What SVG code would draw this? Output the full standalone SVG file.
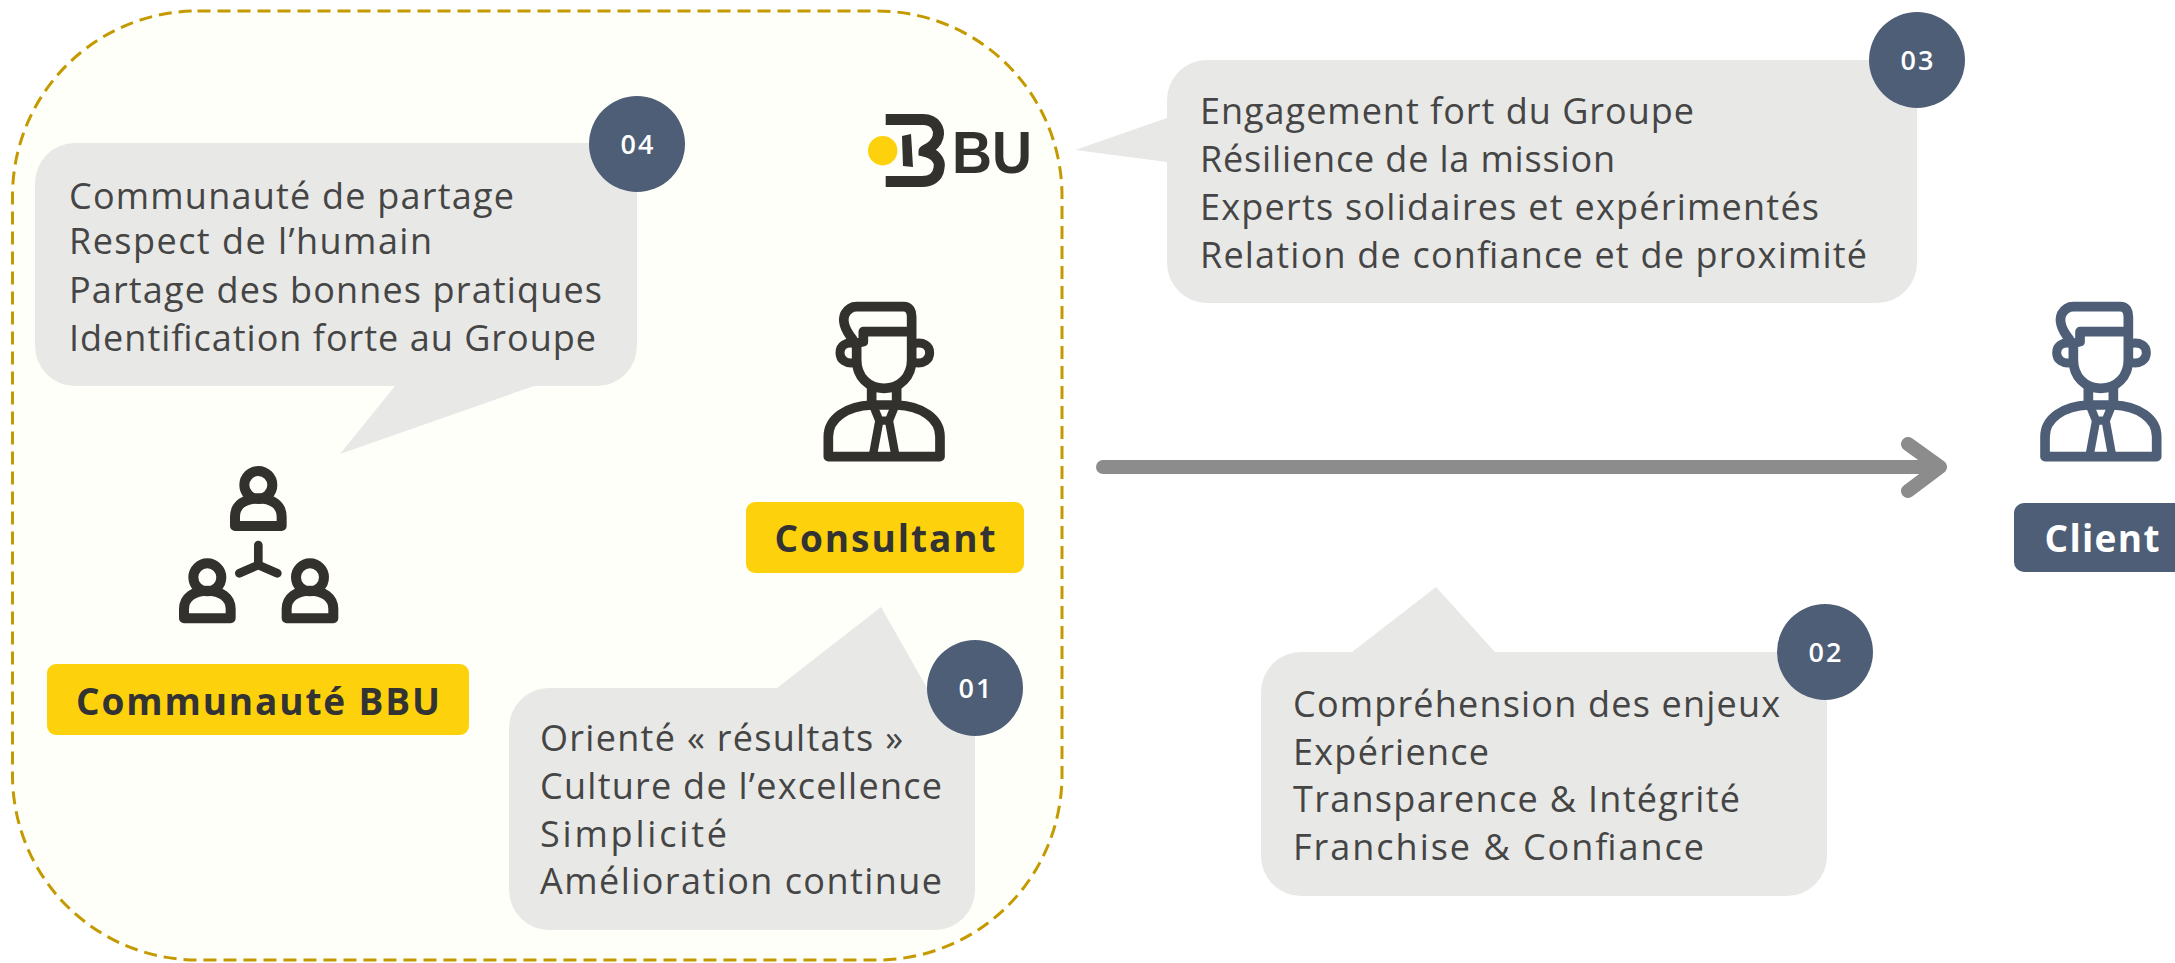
<svg xmlns="http://www.w3.org/2000/svg" width="2175" height="963" viewBox="0 0 2175 963">
<style>
text{font-family:"Open Sans","Liberation Sans",sans-serif}
.b{fill:#e8e8e6}
.t{font-size:36px;fill:#454545}
.c{fill:#4d5e76}
.n{font-size:27px;font-weight:600;fill:#fff;text-anchor:middle;letter-spacing:2px}
.y{fill:#fdd20c}
.l{font-size:37px;font-weight:700;fill:#333;text-anchor:middle}
.i{fill:none;stroke-linejoin:round;stroke-linecap:round}
</style>
<defs>
<g id="person">
<path d="M218 178C192 145 187 120 195 102C205 85 215 80 230 80L370 80C390 80 395 95 395 110L395 240C395 290 360 325 312 325C265 325 230 290 230 240L230 190L250 185L250 155L395 155" stroke-width="29"/>
<path d="M222 248C198 252 180 240 180 218C180 196 198 186 222 190M405 190C430 186 449 196 449 218C449 240 430 252 405 248" stroke-width="27"/>
<path d="M275 320L275 375M350 320L350 375M145 530L145 470C145 415 200 378 275 375L350 375C425 378 480 415 480 470L480 530Z" stroke-width="29"/>
<path d="M283 385L298 422L327 422L342 385M298 422L279 525M327 422L346 525" stroke-width="25"/>
</g>
<g id="mini"><circle cx="295" cy="105" r="42" stroke-width="30"/><path d="M225 228L225 200C225 165 255 145 295 145C335 145 365 165 365 200L365 228Z" stroke-width="30"/></g>
</defs>
<rect id="zone" x="12.500" y="11" width="1049.500" height="949" rx="185" fill="#fffffa" stroke="#c49a00" stroke-width="3" stroke-dasharray="13 7"/>
<g id="logo">
<circle cx="882.700" cy="150.700" r="14.700" class="y"/>
<path d="M885.700 119.500H923C936 119.500 940 130 938 137C935 148 924 150 924 151C934 153 941 160 939 168C938 178 930 181.500 922 181.500H885.700" fill="none" stroke="#33312e" stroke-width="11"/>
<path d="M902 136L911 134L913 167L903 166Z" fill="#33312e"/>
<text x="952" y="172.500" font-size="59" font-weight="700" fill="#33312e" style="font-family:'Liberation Sans',sans-serif" textLength="80" lengthAdjust="spacingAndGlyphs">BU</text>
</g>
<g id="b04">
<path class="b" d="M75 143H637V346A40 40 0 0 1 597 386H534L340 454L395 386H75A40 40 0 0 1 35 346V183A40 40 0 0 1 75 143Z"/>
<text class="t" x="69" y="209" textLength="445">Communauté de partage</text>
<text class="t" x="69" y="254" textLength="363">Respect de l’humain</text>
<text class="t" x="69" y="303" textLength="533">Partage des bonnes pratiques</text>
<text class="t" x="69" y="351" textLength="527">Identification forte au Groupe</text>
<circle class="c" cx="637" cy="144" r="48"/><text class="n" x="638" y="154">04</text>
</g>
<g id="b03">
<path class="b" d="M1207 60H1917V263A40 40 0 0 1 1877 303H1207A40 40 0 0 1 1167 263V162L1075 150L1167 118V100A40 40 0 0 1 1207 60Z"/>
<text class="t" x="1200" y="124" textLength="494">Engagement fort du Groupe</text>
<text class="t" x="1200" y="172" textLength="415">Résilience de la mission</text>
<text class="t" x="1200" y="220" textLength="619">Experts solidaires et expérimentés</text>
<text class="t" x="1200" y="268" textLength="667">Relation de confiance et de proximité</text>
<circle class="c" cx="1917" cy="60" r="48"/><text class="n" x="1918" y="70">03</text>
</g>
<g id="b02">
<path class="b" d="M1301 652H1352L1436 587L1495 652H1827V856A40 40 0 0 1 1787 896H1301A40 40 0 0 1 1261 856V692A40 40 0 0 1 1301 652Z"/>
<text class="t" x="1293" y="717" textLength="487">Compréhension des enjeux</text>
<text class="t" x="1293" y="765" textLength="196">Expérience</text>
<text class="t" x="1293" y="812" textLength="447">Transparence &amp; Intégrité</text>
<text class="t" x="1293" y="860" textLength="411">Franchise &amp; Confiance</text>
<circle class="c" cx="1825" cy="652" r="48"/><text class="n" x="1826" y="662">02</text>
</g>
<g id="b01">
<path class="b" d="M549 688H777L881 607L927 688H975V890A40 40 0 0 1 935 930H549A40 40 0 0 1 509 890V728A40 40 0 0 1 549 688Z"/>
<text class="t" x="540" y="751" textLength="363">Orienté « résultats »</text>
<text class="t" x="540" y="799" textLength="402">Culture de l’excellence</text>
<text class="t" x="540" y="847" textLength="187">Simplicité</text>
<text class="t" x="540" y="894" textLength="402">Amélioration continue</text>
<circle class="c" cx="975" cy="688" r="48"/><text class="n" x="976" y="698">01</text>
</g>
<g id="consultant">
<use href="#person" class="i" stroke="#33312e" transform="translate(780 280) scale(.3333)"/>
<rect class="y" x="746" y="502" width="278" height="71" rx="9"/>
<text class="l" x="885" y="552" textLength="221">Consultant</text>
</g>
<g id="communaute">
<g class="i" stroke="#33312e" transform="translate(160 450) scale(.3333)">
<use href="#mini"/><use href="#mini" transform="translate(-153 277)"/><use href="#mini" transform="translate(155 277)"/>
<path d="M295 285L295 345L238 370M295 345L352 370" stroke-width="26"/>
</g>
<rect class="y" x="47" y="664" width="422" height="71" rx="9"/>
<text class="l" x="258" y="715" textLength="364">Communauté BBU</text>
</g>
<g id="client">
<use href="#person" class="i" stroke="#4d5e76" transform="translate(1996.700 280) scale(.3333)"/>
<rect class="c" x="2014" y="503" width="170" height="69" rx="10"/>
<text x="2102" y="552" font-size="37" font-weight="700" fill="#fff" text-anchor="middle" textLength="115">Client</text>
</g>
<g id="connectors" fill="none" stroke="#8c8c8c" stroke-width="14" stroke-linecap="round" stroke-linejoin="round">
<path d="M1103 467H1938M1908 444L1940 467L1908 491"/>
</g>
</svg>
